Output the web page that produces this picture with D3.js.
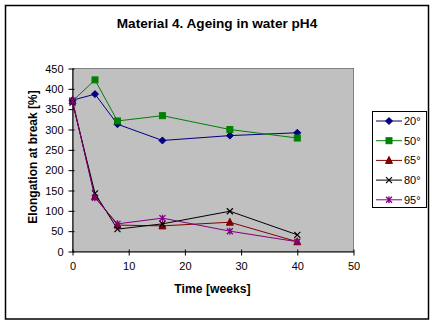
<!DOCTYPE html>
<html>
<head>
<meta charset="utf-8">
<script src="https://cdn.jsdelivr.net/npm/d3@7"></script>
<style>
  html, body { margin: 0; padding: 0; background: #fff; }
  svg { display: block; font-family: "Liberation Sans", Arial, sans-serif; }
</style>
</head>
<body>
<svg id="chart" width="436" height="325"></svg>
<script>
// Elongation at break over ageing time, one series per temperature
const weeks = [0, 4, 8, 16, 28, 40];
const seriesNames = ["20°", "50°", "65°", "80°", "95°"];
const s20 = [372, 387, 313, 273, 285, 292];
const s50 = [370, 422, 321, 334, 300, 279];
const s65 = [371, 135, 65, 63, 72, 24];
const s80 = [366, 143, 55, 68, 99, 41];
const s95 = [370, 132, 68, 82, 50, 24];
const xTicks = [0, 10, 20, 30, 40, 50];
const yTicks = [0, 50, 100, 150, 200, 250, 300, 350, 400, 450];

const colors = ["#000080", "#008000", "#800000", "#000000", "#800080"];
const markers = ["diamond", "square", "triangle", "cross", "star"];
const allSeries = [s20, s50, s65, s80, s95];

const svg = d3.select("#chart");

// chart border
svg.append("rect")
  .attr("x", 5.5).attr("y", 5.5).attr("width", 423).attr("height", 313.5)
  .attr("fill", "#fff").attr("stroke", "#000").attr("stroke-width", 1.5);

const plot = { left: 72.5, right: 353.5, top: 68.5, bottom: 251.5 };
const x = d3.scaleLinear().domain([0, 50]).range([plot.left, plot.right]);
const y = d3.scaleLinear().domain([0, 450]).range([plot.bottom, plot.top]);

// plot area
svg.append("rect")
  .attr("x", plot.left).attr("y", plot.top)
  .attr("width", plot.right - plot.left).attr("height", plot.bottom - plot.top)
  .attr("fill", "#c0c0c0").attr("stroke", "#808080").attr("stroke-width", 1);

// axes
const yAxis = d3.axisLeft(y).tickValues(yTicks).tickSizeInner(4).tickSizeOuter(0).tickPadding(5);
const xAxis = d3.axisBottom(x).tickValues(xTicks).tickSizeInner(4).tickSizeOuter(0).tickPadding(7);

const gy = svg.append("g").attr("transform", `translate(${plot.left},0)`).call(yAxis);
const gx = svg.append("g").attr("transform", `translate(0,${plot.bottom})`).call(xAxis);
[gx, gy].forEach(g => {
  g.select(".domain").attr("stroke", "#000");
  g.selectAll(".tick line").attr("stroke", "#000");
  g.selectAll(".tick text").attr("fill", "#000").attr("font-size", 11)
    .attr("font-family", "'Liberation Sans', Arial, sans-serif");
});
// ticks cross the axis line slightly
gy.selectAll(".tick line").attr("x1", 2);
gx.selectAll(".tick line").attr("y1", -2);

// series lines and markers
const line = d3.line().x((d, i) => x(weeks[i])).y(d => y(d));

function drawMarker(g, type, cx, cy, color) {
  const s = 3;
  if (type === "diamond") {
    g.append("path").attr("d", `M${cx},${cy - s - 0.5}L${cx + s + 0.5},${cy}L${cx},${cy + s + 0.5}L${cx - s - 0.5},${cy}Z`)
      .attr("fill", color).attr("stroke", color);
  } else if (type === "square") {
    g.append("rect").attr("x", cx - s).attr("y", cy - s).attr("width", 2 * s).attr("height", 2 * s)
      .attr("fill", color).attr("stroke", color);
  } else if (type === "triangle") {
    g.append("path").attr("d", `M${cx},${cy - s - 1}L${cx + s + 0.5},${cy + s}L${cx - s - 0.5},${cy + s}Z`)
      .attr("fill", color).attr("stroke", color);
  } else if (type === "cross") {
    g.append("path").attr("d", `M${cx - s},${cy - s}L${cx + s},${cy + s}M${cx - s},${cy + s}L${cx + s},${cy - s}`)
      .attr("stroke", color).attr("stroke-width", 1.2);
  } else if (type === "star") {
    g.append("path").attr("d", `M${cx - s},${cy - s}L${cx + s},${cy + s}M${cx - s},${cy + s}L${cx + s},${cy - s}M${cx},${cy - s - 0.5}L${cx},${cy + s + 0.5}`)
      .attr("stroke", color).attr("stroke-width", 1.3);
  }
}

allSeries.forEach((vals, k) => {
  const g = svg.append("g");
  g.append("path").datum(vals).attr("d", line)
    .attr("fill", "none").attr("stroke", colors[k]).attr("stroke-width", 1);
  vals.forEach((v, i) => drawMarker(g, markers[k], x(weeks[i]), y(v), colors[k]));
});

// titles
svg.append("text").attr("x", 217).attr("y", 27.5).attr("text-anchor", "middle")
  .attr("font-size", 13.6).attr("font-weight", "bold").text("Material 4. Ageing in water pH4");
svg.append("text").attr("x", 212.5).attr("y", 292.5).attr("text-anchor", "middle")
  .attr("font-size", 12.2).attr("font-weight", "bold").text("Time [weeks]");
svg.append("text").attr("transform", "translate(36.5,157) rotate(-90)").attr("text-anchor", "middle")
  .attr("font-size", 12).attr("font-weight", "bold").text("Elongation at break [%]");

// legend
const leg = svg.append("g");
leg.append("rect").attr("x", 372.5).attr("y", 111.5).attr("width", 54).attr("height", 96)
  .attr("fill", "#fff").attr("stroke", "#000").attr("stroke-width", 1);
seriesNames.forEach((name, k) => {
  const ly = 121 + k * 19.7;
  leg.append("line").attr("x1", 376).attr("x2", 402).attr("y1", ly).attr("y2", ly)
    .attr("stroke", colors[k]).attr("stroke-width", 1);
  drawMarker(leg, markers[k], 389, ly, colors[k]);
  leg.append("text").attr("x", 404).attr("y", ly + 4).attr("font-size", 11).text(name);
});
</script>
</body>
</html>
